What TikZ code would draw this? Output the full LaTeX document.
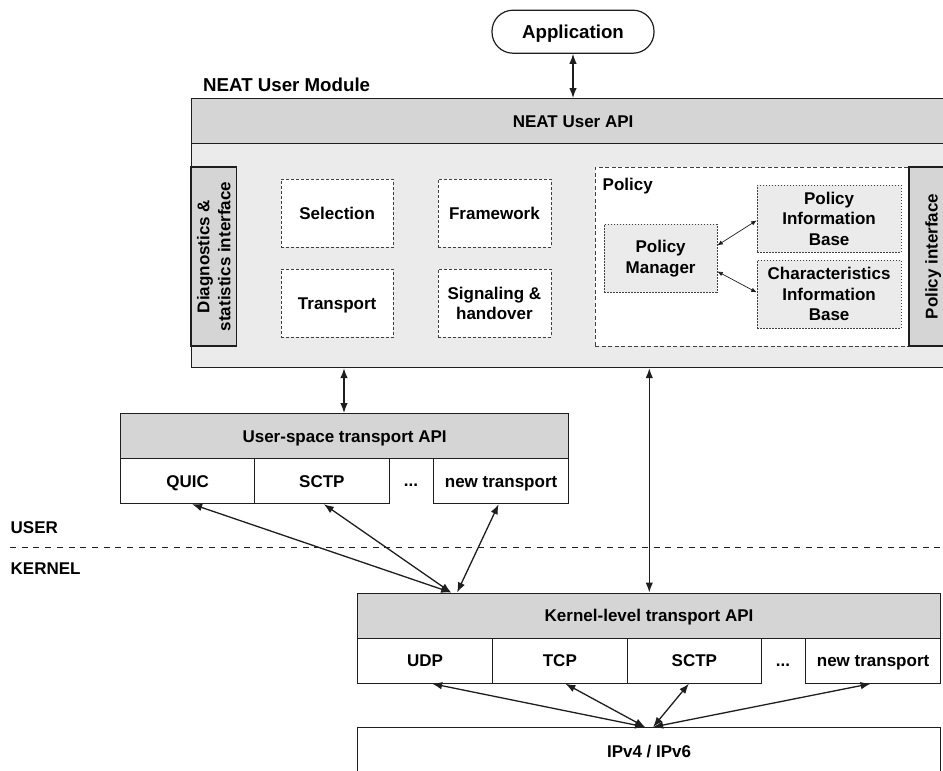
\documentclass[tikz,border=0pt]{standalone}
\usepackage{fontspec}
\setmainfont{Liberation Sans}
\usetikzlibrary{arrows.meta}

\definecolor{hdrgray}{HTML}{D5D5D5}
\definecolor{bodygray}{HTML}{EBEBEB}
\definecolor{ink}{HTML}{1E1E1E}

\begin{document}
\begin{tikzpicture}[x=1pt, y=-1pt]
    \tikzset{
      box/.style={draw=ink, line width=1.2pt, inner sep=0pt, anchor=north west, align=center,
        font=\fontsize{17}{20.5}\selectfont\bfseries},
      one/.style={text height=12.2pt, text depth=0pt},
      hdr/.style={box, fill=hdrgray},
      cell/.style={box, one, fill=white},
      sub/.style={box, fill=white, draw=ink!85, line width=0.8pt, dash pattern=on 3pt off 2pt},
      pol/.style={box, fill=bodygray, draw=ink!85, line width=0.8pt, dash pattern=on 1.5pt off 1.5pt},
      lbl/.style={inner sep=0pt, anchor=base west, font=\fontsize{17}{20.5}\selectfont\bfseries},
      arr/.style={{Latex[length=10pt,width=7.5pt]}-{Latex[length=10pt,width=7.5pt]}, line width=1.3pt, draw=ink},
      parr/.style={{Latex[length=5.5pt,width=4.5pt]}-{Latex[length=5.5pt,width=4.5pt]}, line width=0.7pt, draw=ink}
    }
    \useasboundingbox (0,0) rectangle (943,771);
    \clip (0,0) rectangle (943,771);

    % application and user module
    \node[box, one, rounded corners=21pt, anchor=center, minimum width=162pt, minimum height=43pt,
      font=\fontsize{18.7}{22}\selectfont\bfseries, text height=13.4pt] (app) at (573,31.7) {Application};
    \node[lbl, font=\fontsize{18.7}{22}\selectfont\bfseries] (modlbl) at (203,91) {NEAT User Module};
    \node[box, fill=bodygray, minimum width=763pt, minimum height=224pt] (body) at (191,143) {};
    \node[hdr, one, minimum width=763pt, minimum height=45pt] (api) at (191,98) {NEAT User API};
    \node[hdr, rotate=90, anchor=center, minimum width=179pt, minimum height=45.5pt,
      font=\fontsize{17}{21}\selectfont\bfseries] (diag) at (213.75,256.5) {Diagnostics \&\\statistics interface};

    \node[sub, one, minimum width=112.5pt, minimum height=68pt] (sel) at (280.5,179) {Selection};
    \node[sub, one, minimum width=113pt, minimum height=68pt] (fw) at (437.5,179) {Framework};
    \node[sub, one, minimum width=112.5pt, minimum height=68pt] (tr) at (280.5,269) {Transport};
    \node[sub, minimum width=113pt, minimum height=68pt] (sig) at (437.5,269) {Signaling \&\\handover};

    % policy part
    \node[sub, dash pattern=on 4pt off 2.5pt, minimum width=314pt, minimum height=179pt] (policy) at (595,167) {};
    \node[lbl] (poltxt) at (602.5,190.5) {Policy};
    \node[hdr, one, rotate=90, anchor=center, minimum width=179pt, minimum height=45pt] (polif) at (931.5,256.5) {Policy interface};
    \node[pol, minimum width=112.5pt, minimum height=68pt] (pm) at (604,224) {Policy\\Manager};
    \node[pol, minimum width=144pt, minimum height=67pt] (pib) at (756.7,185) {Policy\\Information\\Base};
    \node[pol, minimum width=144pt, minimum height=68pt] (cib) at (756.7,260) {Characteristics\\Information\\Base};
    \draw[parr] ([yshift=13pt]pm.east) -- ([yshift=-1.5pt]pib.west);
    \draw[parr] ([yshift=-13pt]pm.east) -- ([yshift=2pt]cib.west);

    % user-space transports
    \node[hdr, one, minimum width=448pt, minimum height=45pt] (uapi) at (120,413) {User-space transport API};
    \node[cell, minimum width=134pt, minimum height=45pt] (uquic) at (120,458) {QUIC};
    \node[cell, minimum width=134.5pt, minimum height=45pt] (usctp) at (254,458) {SCTP};
    \node[lbl, anchor=base] (udots) at (411,486) {...};
    \node[cell, minimum width=135pt, minimum height=45pt] (unew) at (433,458) {new transport};

    % user / kernel split
    \coordinate (ul) at (10,547.7);
    \coordinate (ur) at (943,547.7);
    \draw[ink, line width=1pt, dash pattern=on 6pt off 5.7pt] (ul) -- (ur);
    \node[lbl] (user) at (10.5,533) {USER};
    \node[lbl] (kernel) at (10.5,574.3) {KERNEL};

    % kernel transports
    \node[hdr, one, minimum width=583pt, minimum height=45pt] (kapi) at (357,592.5) {Kernel-level transport API};
    \node[cell, minimum width=135pt, minimum height=45pt] (kudp) at (357,637.5) {UDP};
    \node[cell, minimum width=134.5pt, minimum height=45pt] (ktcp) at (492,637.5) {TCP};
    \node[cell, minimum width=134.5pt, minimum height=45pt] (ksctp) at (626.5,637.5) {SCTP};
    \node[lbl, anchor=base] (kdots) at (783,666) {...};
    \node[cell, minimum width=135pt, minimum height=45pt] (knew) at (805,637.5) {new transport};
    \node[cell, minimum width=583pt, minimum height=48pt] (ip) at (357,727) {IPv4 / IPv6};

    % connectors
    \coordinate (ux) at (344,0);
    \coordinate (kx) at (649.3,0);
    \draw[arr] (app.south) -- (app.south |- api.north);
    \draw[arr] (ux |- body.south) -- (ux |- uapi.north);
    \draw[arr] (kx |- body.south) -- (kx |- kapi.north);
    \draw[arr] ([xshift=4.5pt]uquic.south) -- ([xshift=-198pt]kapi.north);
    \draw[arr] ([xshift=2pt]usctp.south) -- ([xshift=-198pt]kapi.north);
    \draw[arr] ([xshift=-2.5pt]unew.south) -- ([xshift=-192pt]kapi.north);
    \draw[arr] ([xshift=7pt]kudp.south) -- ([xshift=-4pt]ip.north);
    \draw[arr] ([xshift=5.5pt]ktcp.south) -- ([xshift=-4pt]ip.north);
    \draw[arr] ([xshift=-5.5pt]ksctp.south) -- ([xshift=4pt]ip.north);
    \draw[arr] ([xshift=-2.5pt]knew.south) -- ([xshift=4pt]ip.north);
\end{tikzpicture}
\end{document}
